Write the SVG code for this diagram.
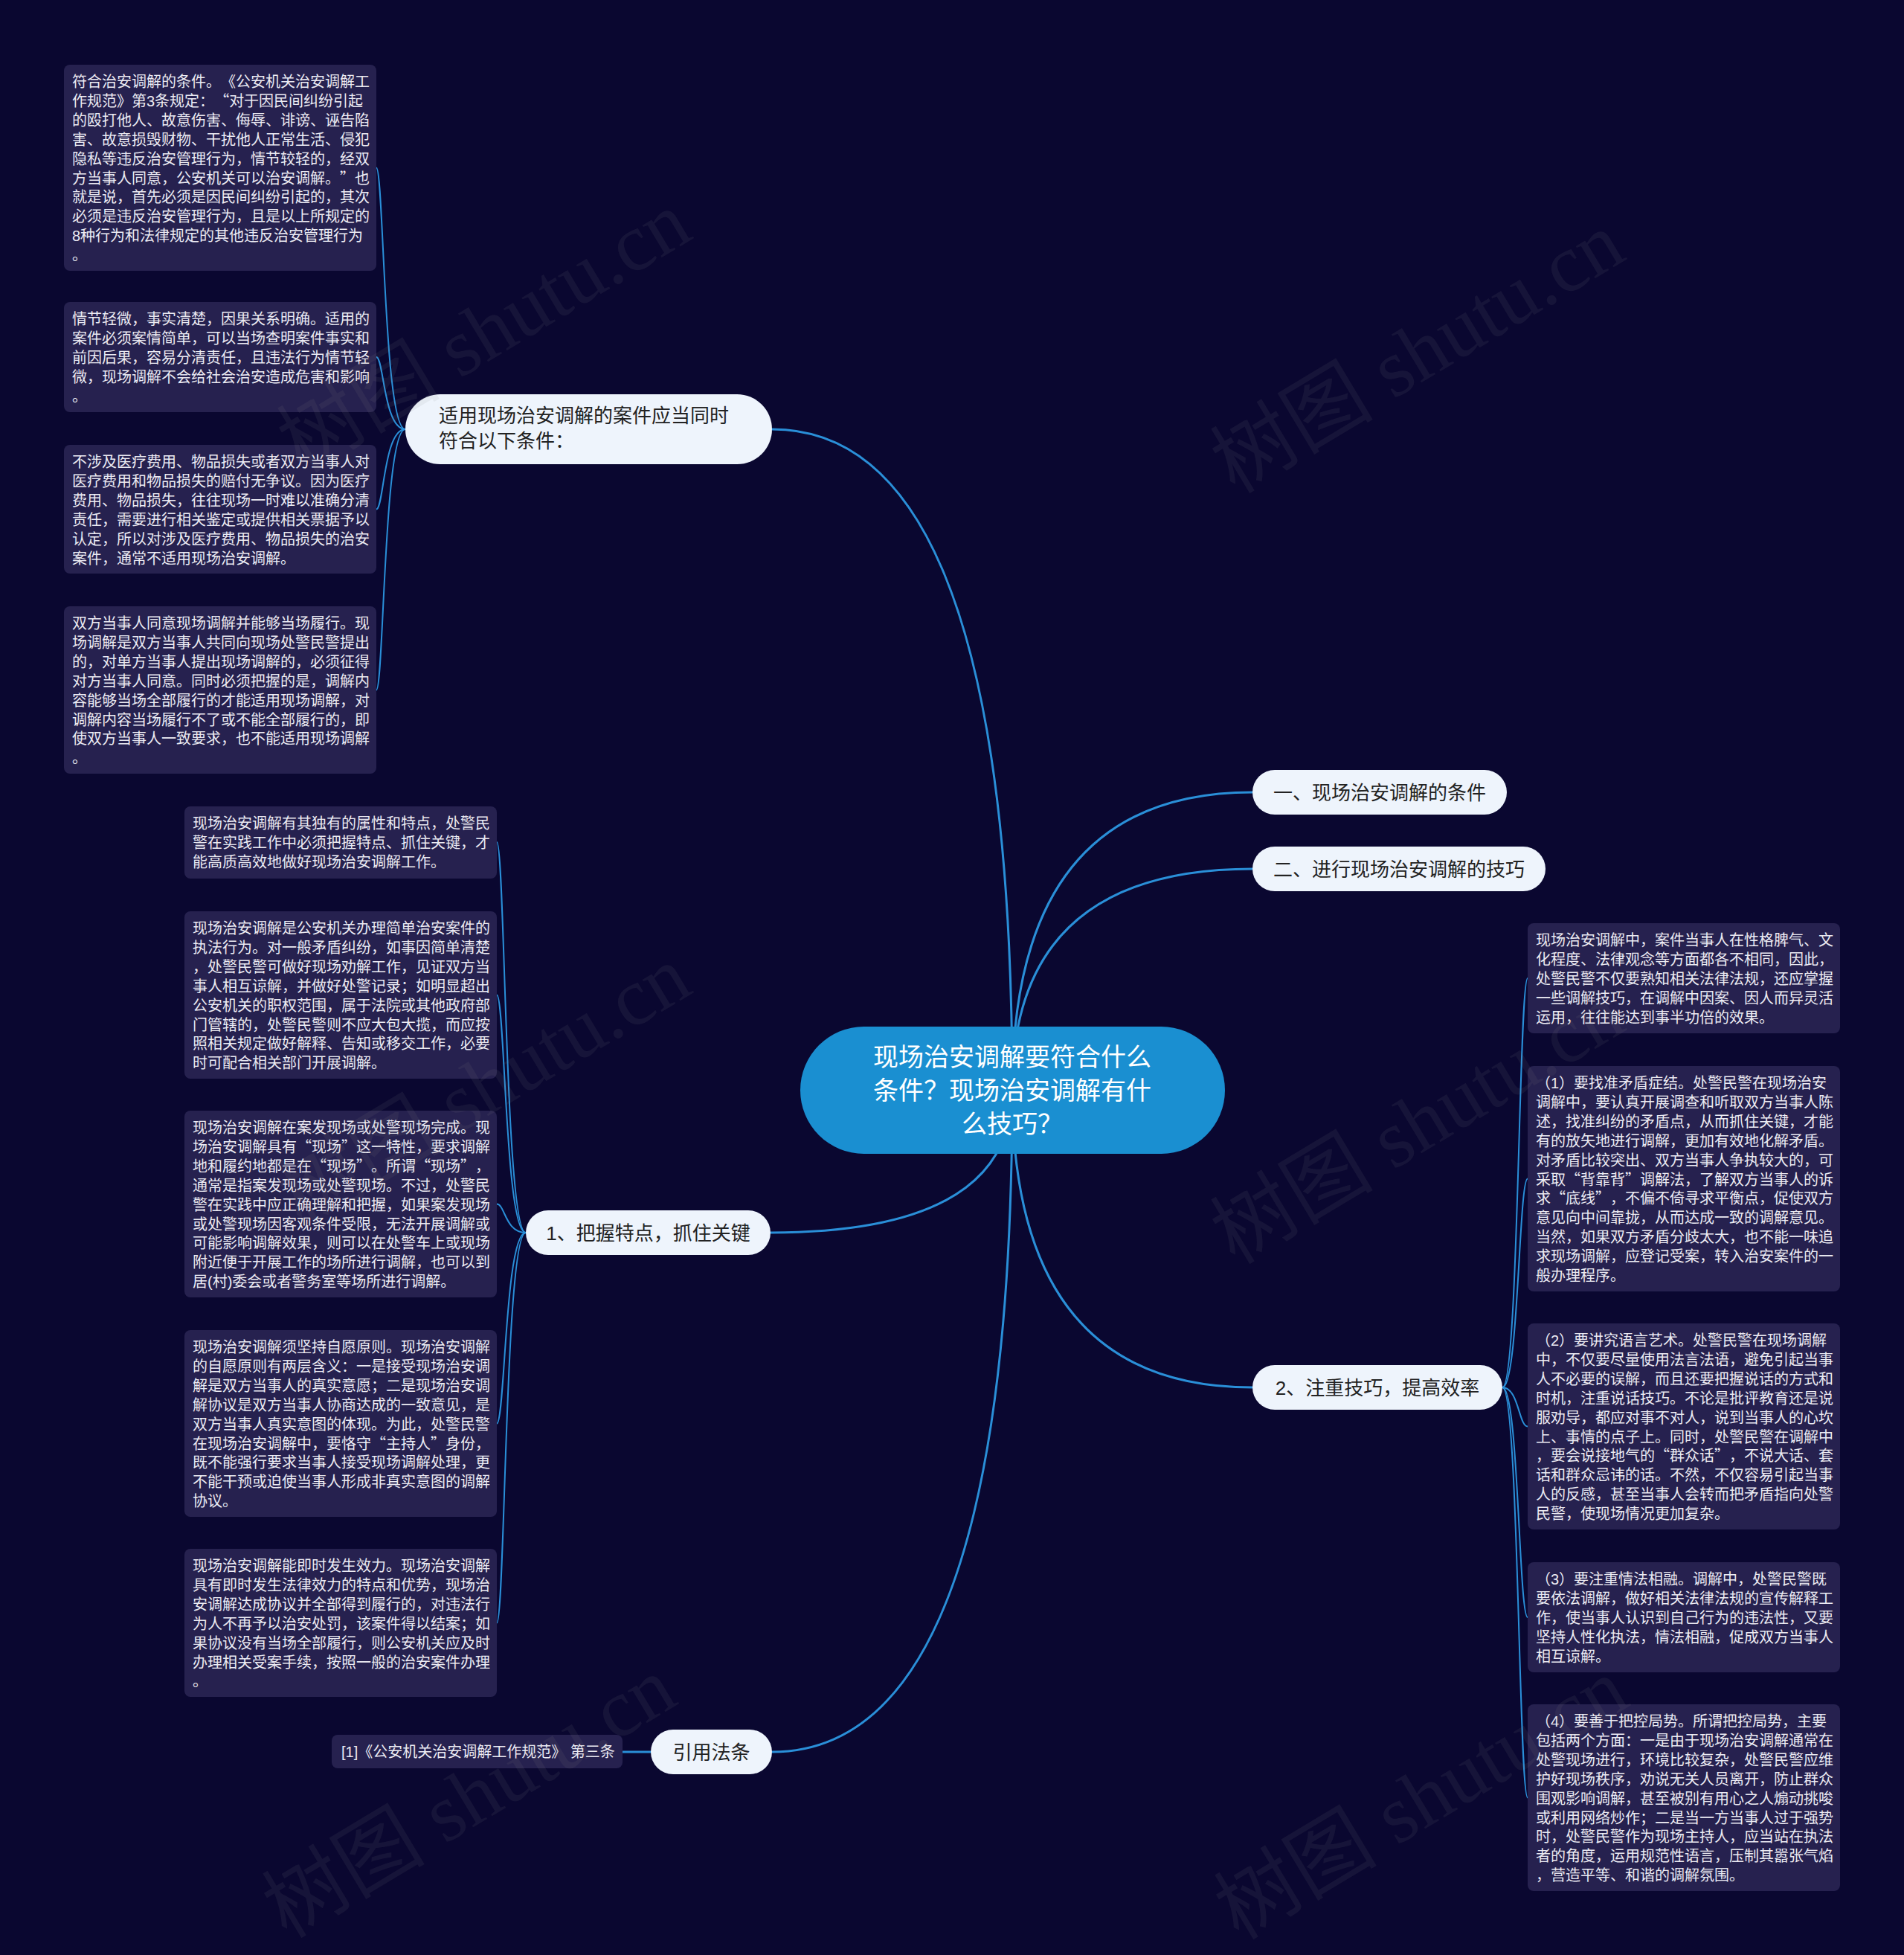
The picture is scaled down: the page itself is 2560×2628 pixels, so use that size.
<svg xmlns="http://www.w3.org/2000/svg" width="2560" height="2628" viewBox="0 0 2560 2628">
<style>
text{text-spacing-trim:space-all}
.bg{fill:#0a0730}
.wm{font-family:"Liberation Serif","Noto Sans CJK SC",serif;font-size:110px;fill:#8a8a8a;fill-opacity:0.1}
.box{fill:#26214f}
.bt{font-family:"Liberation Sans","Noto Sans CJK SC",sans-serif;font-size:20px;fill:#ecebf3}
.q{font-family:"Noto Sans CJK SC","Liberation Sans",sans-serif}
.node{fill:#eef4fc}
.nt{font-family:"Liberation Sans","Noto Sans CJK SC",sans-serif;font-size:26px;fill:#222222}
.root{fill:#1a8fd1}
.rt{font-family:"Liberation Sans","Noto Sans CJK SC",sans-serif;font-size:34px;fill:#ffffff;text-anchor:middle}
.main{fill:none;stroke:#2a8fd8;stroke-width:3}
.sub{fill:none;stroke:#2a8fd8;stroke-width:2}
</style>
<rect class="bg" x="0" y="0" width="2560" height="2628"/>
<g id="connectors">
<path class="main" d="M1361 1465 Q1361 577 1038 577"/>
<path class="main" d="M1361 1465 Q1361 1065 1684 1065"/>
<path class="main" d="M1361 1465 Q1361 1168 1684 1168"/>
<path class="main" d="M1361 1465 Q1361 1865 1684 1865"/>
<path class="main" d="M1361 1465 Q1361 1657 1036 1657"/>
<path class="main" d="M1361 1465 Q1361 2355 1038 2355"/>
<path class="sub" d="M545 577 C516 577 516 225.5 506 225.5"/>
<path class="sub" d="M545 577 C516 577 516 480 506 480"/>
<path class="sub" d="M545 577 C516 577 516 684.5 506 684.5"/>
<path class="sub" d="M545 577 C516 577 516 927.5 506 927.5"/>
<path class="sub" d="M707 1657 C679 1657 679 1132 668 1132"/>
<path class="sub" d="M707 1657 C679 1657 679 1337.5 668 1337.5"/>
<path class="sub" d="M707 1657 C679 1657 679 1618.5 668 1618.5"/>
<path class="sub" d="M707 1657 C679 1657 679 1913.5 668 1913.5"/>
<path class="sub" d="M707 1657 C679 1657 679 2181.5 668 2181.5"/>
<path class="sub" d="M2020 1865 C2042 1865 2042 1315 2054 1315"/>
<path class="sub" d="M2020 1865 C2042 1865 2042 1584.5 2054 1584.5"/>
<path class="sub" d="M2020 1865 C2042 1865 2042 1917.5 2054 1917.5"/>
<path class="sub" d="M2020 1865 C2042 1865 2042 2174 2054 2174"/>
<path class="sub" d="M2020 1865 C2042 1865 2042 2416.5 2054 2416.5"/>
<path class="main" d="M875 2355 L837 2355"/>
</g>
<g id="root">
<rect class="root" x="1076" y="1380" width="571" height="171" rx="85.5"/>
<text class="rt"><tspan x="1361" y="1433">现场治安调解要符合什么</tspan><tspan x="1361" y="1478">条件？现场治安调解有什</tspan><tspan x="1361" y="1523">么技巧？</tspan></text>
</g>
<g id="n-conditions-apply">
<rect class="node" x="545" y="530" width="493" height="94" rx="47"/>
<text class="nt"><tspan x="590" y="568">适用现场治安调解的案件应当同时</tspan><tspan x="590" y="602">符合以下条件：</tspan></text>
</g>
<g id="n-one">
<rect class="node" x="1684" y="1035" width="342" height="60" rx="30"/>
<text class="nt" x="1855" y="1075" text-anchor="middle">一、现场治安调解的条件</text>
</g>
<g id="n-two">
<rect class="node" x="1684" y="1138" width="394" height="60" rx="30"/>
<text class="nt" x="1881" y="1178" text-anchor="middle">二、进行现场治安调解的技巧</text>
</g>
<g id="n-skill2">
<rect class="node" x="1684" y="1835" width="336" height="60" rx="30"/>
<text class="nt" x="1852" y="1875" text-anchor="middle">2、注重技巧，提高效率</text>
</g>
<g id="n-skill1">
<rect class="node" x="707" y="1627" width="329" height="60" rx="30"/>
<text class="nt" x="871.5" y="1667" text-anchor="middle">1、把握特点，抓住关键</text>
</g>
<g id="n-cite">
<rect class="node" x="875" y="2325" width="163" height="60" rx="30"/>
<text class="nt" x="956.5" y="2365" text-anchor="middle">引用法条</text>
</g>
<g id="b-cite">
<rect class="box" x="446" y="2332" width="391" height="45" rx="8"/>
<text class="bt" x="459" y="2362">[1]《公安机关治安调解工作规范》 第三条</text>
</g>
<g id="a1">
<rect class="box" x="86" y="87" width="420" height="277" rx="8"/>
<text class="bt"><tspan x="97" y="117">符合治安调解的条件。《公安机关治安调解工</tspan><tspan x="97" y="142.9">作规范》第3条规定：<tspan class="q">“</tspan>对于因民间纠纷引起</tspan><tspan x="97" y="168.8">的殴打他人、故意伤害、侮辱、诽谤、诬告陷</tspan><tspan x="97" y="194.7">害、故意损毁财物、干扰他人正常生活、侵犯</tspan><tspan x="97" y="220.6">隐私等违反治安管理行为，情节较轻的，经双</tspan><tspan x="97" y="246.5">方当事人同意，公安机关可以治安调解。<tspan class="q">”</tspan>也</tspan><tspan x="97" y="272.4">就是说，首先必须是因民间纠纷引起的，其次</tspan><tspan x="97" y="298.3">必须是违反治安管理行为，且是以上所规定的</tspan><tspan x="97" y="324.2">8种行为和法律规定的其他违反治安管理行为</tspan><tspan x="97" y="350.1">。</tspan></text>
</g>
<g id="a2">
<rect class="box" x="86" y="406" width="420" height="148" rx="8"/>
<text class="bt"><tspan x="97" y="436">情节轻微，事实清楚，因果关系明确。适用的</tspan><tspan x="97" y="461.9">案件必须案情简单，可以当场查明案件事实和</tspan><tspan x="97" y="487.8">前因后果，容易分清责任，且违法行为情节轻</tspan><tspan x="97" y="513.7">微，现场调解不会给社会治安造成危害和影响</tspan><tspan x="97" y="539.6">。</tspan></text>
</g>
<g id="a3">
<rect class="box" x="86" y="598" width="420" height="173" rx="8"/>
<text class="bt"><tspan x="97" y="628">不涉及医疗费用、物品损失或者双方当事人对</tspan><tspan x="97" y="653.9">医疗费用和物品损失的赔付无争议。因为医疗</tspan><tspan x="97" y="679.8">费用、物品损失，往往现场一时难以准确分清</tspan><tspan x="97" y="705.7">责任，需要进行相关鉴定或提供相关票据予以</tspan><tspan x="97" y="731.6">认定，所以对涉及医疗费用、物品损失的治安</tspan><tspan x="97" y="757.5">案件，通常不适用现场治安调解。</tspan></text>
</g>
<g id="a4">
<rect class="box" x="86" y="815" width="420" height="225" rx="8"/>
<text class="bt"><tspan x="97" y="845">双方当事人同意现场调解并能够当场履行。现</tspan><tspan x="97" y="870.9">场调解是双方当事人共同向现场处警民警提出</tspan><tspan x="97" y="896.8">的，对单方当事人提出现场调解的，必须征得</tspan><tspan x="97" y="922.7">对方当事人同意。同时必须把握的是，调解内</tspan><tspan x="97" y="948.6">容能够当场全部履行的才能适用现场调解，对</tspan><tspan x="97" y="974.5">调解内容当场履行不了或不能全部履行的，即</tspan><tspan x="97" y="1000.4">使双方当事人一致要求，也不能适用现场调解</tspan><tspan x="97" y="1026.3">。</tspan></text>
</g>
<g id="b1">
<rect class="box" x="248" y="1084" width="420" height="97" rx="8"/>
<text class="bt"><tspan x="259" y="1114">现场治安调解有其独有的属性和特点，处警民</tspan><tspan x="259" y="1139.9">警在实践工作中必须把握特点、抓住关键，才</tspan><tspan x="259" y="1165.8">能高质高效地做好现场治安调解工作。</tspan></text>
</g>
<g id="b2">
<rect class="box" x="248" y="1225" width="420" height="225" rx="8"/>
<text class="bt"><tspan x="259" y="1255">现场治安调解是公安机关办理简单治安案件的</tspan><tspan x="259" y="1280.9">执法行为。对一般矛盾纠纷，如事因简单清楚</tspan><tspan x="259" y="1306.8">，处警民警可做好现场劝解工作，见证双方当</tspan><tspan x="259" y="1332.7">事人相互谅解，并做好处警记录；如明显超出</tspan><tspan x="259" y="1358.6">公安机关的职权范围，属于法院或其他政府部</tspan><tspan x="259" y="1384.5">门管辖的，处警民警则不应大包大揽，而应按</tspan><tspan x="259" y="1410.4">照相关规定做好解释、告知或移交工作，必要</tspan><tspan x="259" y="1436.3">时可配合相关部门开展调解。</tspan></text>
</g>
<g id="b3">
<rect class="box" x="248" y="1493" width="420" height="251" rx="8"/>
<text class="bt"><tspan x="259" y="1523">现场治安调解在案发现场或处警现场完成。现</tspan><tspan x="259" y="1548.9">场治安调解具有<tspan class="q">“</tspan>现场<tspan class="q">”</tspan>这一特性，要求调解</tspan><tspan x="259" y="1574.8">地和履约地都是在<tspan class="q">“</tspan>现场<tspan class="q">”</tspan>。所谓<tspan class="q">“</tspan>现场<tspan class="q">”</tspan>，</tspan><tspan x="259" y="1600.7">通常是指案发现场或处警现场。不过，处警民</tspan><tspan x="259" y="1626.6">警在实践中应正确理解和把握，如果案发现场</tspan><tspan x="259" y="1652.5">或处警现场因客观条件受限，无法开展调解或</tspan><tspan x="259" y="1678.4">可能影响调解效果，则可以在处警车上或现场</tspan><tspan x="259" y="1704.3">附近便于开展工作的场所进行调解，也可以到</tspan><tspan x="259" y="1730.2">居(村)委会或者警务室等场所进行调解。</tspan></text>
</g>
<g id="b4">
<rect class="box" x="248" y="1788" width="420" height="251" rx="8"/>
<text class="bt"><tspan x="259" y="1818">现场治安调解须坚持自愿原则。现场治安调解</tspan><tspan x="259" y="1843.9">的自愿原则有两层含义：一是接受现场治安调</tspan><tspan x="259" y="1869.8">解是双方当事人的真实意愿；二是现场治安调</tspan><tspan x="259" y="1895.7">解协议是双方当事人协商达成的一致意见，是</tspan><tspan x="259" y="1921.6">双方当事人真实意图的体现。为此，处警民警</tspan><tspan x="259" y="1947.5">在现场治安调解中，要恪守<tspan class="q">“</tspan>主持人<tspan class="q">”</tspan>身份，</tspan><tspan x="259" y="1973.4">既不能强行要求当事人接受现场调解处理，更</tspan><tspan x="259" y="1999.3">不能干预或迫使当事人形成非真实意图的调解</tspan><tspan x="259" y="2025.2">协议。</tspan></text>
</g>
<g id="b5">
<rect class="box" x="248" y="2082" width="420" height="199" rx="8"/>
<text class="bt"><tspan x="259" y="2112">现场治安调解能即时发生效力。现场治安调解</tspan><tspan x="259" y="2137.9">具有即时发生法律效力的特点和优势，现场治</tspan><tspan x="259" y="2163.8">安调解达成协议并全部得到履行的，对违法行</tspan><tspan x="259" y="2189.7">为人不再予以治安处罚，该案件得以结案；如</tspan><tspan x="259" y="2215.6">果协议没有当场全部履行，则公安机关应及时</tspan><tspan x="259" y="2241.5">办理相关受案手续，按照一般的治安案件办理</tspan><tspan x="259" y="2267.4">。</tspan></text>
</g>
<g id="c1">
<rect class="box" x="2054" y="1241" width="420" height="148" rx="8"/>
<text class="bt"><tspan x="2065" y="1271">现场治安调解中，案件当事人在性格脾气、文</tspan><tspan x="2065" y="1296.9">化程度、法律观念等方面都各不相同，因此，</tspan><tspan x="2065" y="1322.8">处警民警不仅要熟知相关法律法规，还应掌握</tspan><tspan x="2065" y="1348.7">一些调解技巧，在调解中因案、因人而异灵活</tspan><tspan x="2065" y="1374.6">运用，往往能达到事半功倍的效果。</tspan></text>
</g>
<g id="c2">
<rect class="box" x="2054" y="1433" width="420" height="303" rx="8"/>
<text class="bt"><tspan x="2065" y="1463">（1）要找准矛盾症结。处警民警在现场治安</tspan><tspan x="2065" y="1488.9">调解中，要认真开展调查和听取双方当事人陈</tspan><tspan x="2065" y="1514.8">述，找准纠纷的矛盾点，从而抓住关键，才能</tspan><tspan x="2065" y="1540.7">有的放矢地进行调解，更加有效地化解矛盾。</tspan><tspan x="2065" y="1566.6">对矛盾比较突出、双方当事人争执较大的，可</tspan><tspan x="2065" y="1592.5">采取<tspan class="q">“</tspan>背靠背<tspan class="q">”</tspan>调解法，了解双方当事人的诉</tspan><tspan x="2065" y="1618.4">求<tspan class="q">“</tspan>底线<tspan class="q">”</tspan>，不偏不倚寻求平衡点，促使双方</tspan><tspan x="2065" y="1644.3">意见向中间靠拢，从而达成一致的调解意见。</tspan><tspan x="2065" y="1670.2">当然，如果双方矛盾分歧太大，也不能一味追</tspan><tspan x="2065" y="1696.1">求现场调解，应登记受案，转入治安案件的一</tspan><tspan x="2065" y="1722">般办理程序。</tspan></text>
</g>
<g id="c3">
<rect class="box" x="2054" y="1779" width="420" height="277" rx="8"/>
<text class="bt"><tspan x="2065" y="1809">（2）要讲究语言艺术。处警民警在现场调解</tspan><tspan x="2065" y="1834.9">中，不仅要尽量使用法言法语，避免引起当事</tspan><tspan x="2065" y="1860.8">人不必要的误解，而且还要把握说话的方式和</tspan><tspan x="2065" y="1886.7">时机，注重说话技巧。不论是批评教育还是说</tspan><tspan x="2065" y="1912.6">服劝导，都应对事不对人，说到当事人的心坎</tspan><tspan x="2065" y="1938.5">上、事情的点子上。同时，处警民警在调解中</tspan><tspan x="2065" y="1964.4">，要会说接地气的<tspan class="q">“</tspan>群众话<tspan class="q">”</tspan>，不说大话、套</tspan><tspan x="2065" y="1990.3">话和群众忌讳的话。不然，不仅容易引起当事</tspan><tspan x="2065" y="2016.2">人的反感，甚至当事人会转而把矛盾指向处警</tspan><tspan x="2065" y="2042.1">民警，使现场情况更加复杂。</tspan></text>
</g>
<g id="c4">
<rect class="box" x="2054" y="2100" width="420" height="148" rx="8"/>
<text class="bt"><tspan x="2065" y="2130">（3）要注重情法相融。调解中，处警民警既</tspan><tspan x="2065" y="2155.9">要依法调解，做好相关法律法规的宣传解释工</tspan><tspan x="2065" y="2181.8">作，使当事人认识到自己行为的违法性，又要</tspan><tspan x="2065" y="2207.7">坚持人性化执法，情法相融，促成双方当事人</tspan><tspan x="2065" y="2233.6">相互谅解。</tspan></text>
</g>
<g id="c5">
<rect class="box" x="2054" y="2291" width="420" height="251" rx="8"/>
<text class="bt"><tspan x="2065" y="2321">（4）要善于把控局势。所谓把控局势，主要</tspan><tspan x="2065" y="2346.9">包括两个方面：一是由于现场治安调解通常在</tspan><tspan x="2065" y="2372.8">处警现场进行，环境比较复杂，处警民警应维</tspan><tspan x="2065" y="2398.7">护好现场秩序，劝说无关人员离开，防止群众</tspan><tspan x="2065" y="2424.6">围观影响调解，甚至被别有用心之人煽动挑唆</tspan><tspan x="2065" y="2450.5">或利用网络炒作；二是当一方当事人过于强势</tspan><tspan x="2065" y="2476.4">时，处警民警作为现场主持人，应当站在执法</tspan><tspan x="2065" y="2502.3">者的角度，运用规范性语言，压制其嚣张气焰</tspan><tspan x="2065" y="2528.2">，营造平等、和谐的调解氛围。</tspan></text>
</g>
<g id="watermarks">
<text class="wm" transform="translate(670,478) rotate(-31)" text-anchor="middle">树图 shutu.cn</text>
<text class="wm" transform="translate(1925,506) rotate(-31)" text-anchor="middle">树图 shutu.cn</text>
<text class="wm" transform="translate(670,1492) rotate(-31)" text-anchor="middle">树图 shutu.cn</text>
<text class="wm" transform="translate(1925,1542) rotate(-31)" text-anchor="middle">树图 shutu.cn</text>
<text class="wm" transform="translate(650,2448) rotate(-31)" text-anchor="middle">树图 shutu.cn</text>
<text class="wm" transform="translate(1930,2450) rotate(-31)" text-anchor="middle">树图 shutu.cn</text>
</g>
</svg>
